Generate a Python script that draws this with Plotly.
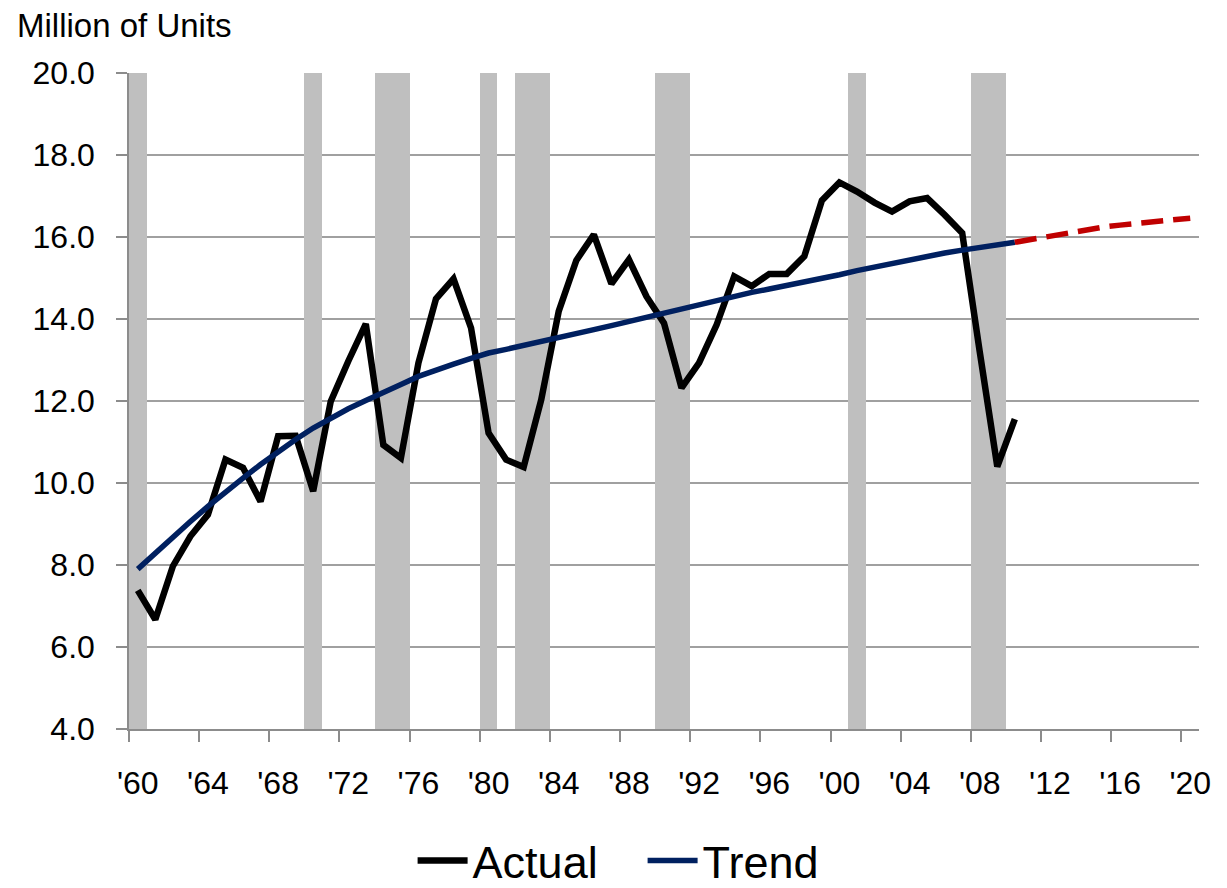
import plotly.graph_objects as go

years_actual = list(range(1960, 2011))
actual = [7.38, 6.67, 7.97, 8.70, 9.23, 10.57, 10.37, 9.55, 11.14, 11.15,
          9.80, 11.99, 12.97, 13.88, 10.93, 10.61, 12.93, 14.49, 14.98, 13.78,
          11.22, 10.57, 10.39, 12.03, 14.19, 15.43, 16.06, 14.86, 15.45, 14.55,
          13.90, 12.32, 12.93, 13.86, 15.04, 14.80, 15.10, 15.10, 15.53, 16.89,
          17.33, 17.11, 16.84, 16.62, 16.87, 16.95, 16.54, 16.10, 13.20, 10.40,
          11.56]

trend = [7.90, 8.30, 8.68, 9.06, 9.43, 9.79, 10.12, 10.45, 10.77, 11.06,
         11.34, 11.59, 11.81, 12.01, 12.19, 12.40, 12.60, 12.76, 12.90, 13.04,
         13.17, 13.26, 13.35, 13.45, 13.54, 13.64, 13.74, 13.84, 13.94, 14.04,
         14.14, 14.25, 14.35, 14.46, 14.57, 14.65, 14.73, 14.81, 14.89, 14.99,
         15.08, 15.18, 15.27, 15.36, 15.44, 15.53, 15.61, 15.68, 15.74, 15.81,
         15.87]

years_forecast = list(range(2010, 2021))
forecast = [15.87, 15.95, 16.03, 16.10, 16.18, 16.24, 16.29, 16.34, 16.38, 16.42, 16.46]

recession_years = [1960, 1970, 1974, 1975, 1980, 1982, 1983, 1990, 1991, 2001, 2008, 2009]

tick_years = list(range(1960, 2021, 4))
tick_labels = ["'" + str(y)[2:] for y in tick_years]
boundary_ticks = [y - 0.5 for y in tick_years]

FONT = "Liberation Sans, Arial, sans-serif"

fig = go.Figure()
fig.add_trace(go.Bar(x=recession_years, y=[16] * len(recession_years), base=4, width=1,
                     marker=dict(color="#BFBFBF", line=dict(width=0)),
                     showlegend=False, hoverinfo="skip"))
fig.add_trace(go.Scatter(x=years_actual, y=actual, mode="lines", name="Actual",
                         line=dict(color="#000000", width=6.5)))
fig.add_trace(go.Scatter(x=years_actual, y=trend, mode="lines", name="Trend",
                         line=dict(color="#002060", width=5.5)))
fig.add_trace(go.Scatter(x=years_forecast, y=forecast, mode="lines", showlegend=False,
                         line=dict(color="#C00000", width=5.5, dash="22px,10px")))

fig.update_layout(
    width=1219, height=880,
    margin=dict(l=121, r=28, t=65, b=159, autoexpand=False),
    paper_bgcolor="white", plot_bgcolor="white",
    font=dict(family=FONT, color="#000000"),
    bargap=0,
    legend=dict(orientation="h", x=0.48, xanchor="center", y=-0.146, yanchor="top",
                font=dict(size=45, family=FONT), itemwidth=50, entrywidth=165,
                traceorder="normal"),
    annotations=[dict(text="Million of Units", xref="paper", yref="paper",
                      x=-0.1065, y=1.072, xanchor="left", yanchor="middle",
                      showarrow=False, font=dict(size=33, family=FONT))],
)
fig.update_yaxes(range=[4, 20], dtick=2, tick0=4, tickformat=".1f",
                 showgrid=True, gridcolor="#A0A0A0", gridwidth=1.5,
                 showline=True, linecolor="#8C8C8C", linewidth=1.5,
                 ticks="outside", ticklen=11, tickcolor="#8C8C8C", tickwidth=1.5,
                 tickfont=dict(size=32, family=FONT), ticklabelstandoff=15,
                 zeroline=False)
fig.update_xaxes(range=[1959.5, 2020.5], tickmode="array", tickvals=tick_years,
                 ticktext=tick_labels, ticks="", showgrid=False,
                 showline=True, linecolor="#8C8C8C", linewidth=1.5,
                 tickfont=dict(size=32, family=FONT), ticklabelstandoff=25,
                 minor=dict(tickmode="array", tickvals=boundary_ticks, ticks="outside",
                            ticklen=11, tickcolor="#8C8C8C", tickwidth=1.5, showgrid=False),
                 zeroline=False)

fig.write_html("out.html")
